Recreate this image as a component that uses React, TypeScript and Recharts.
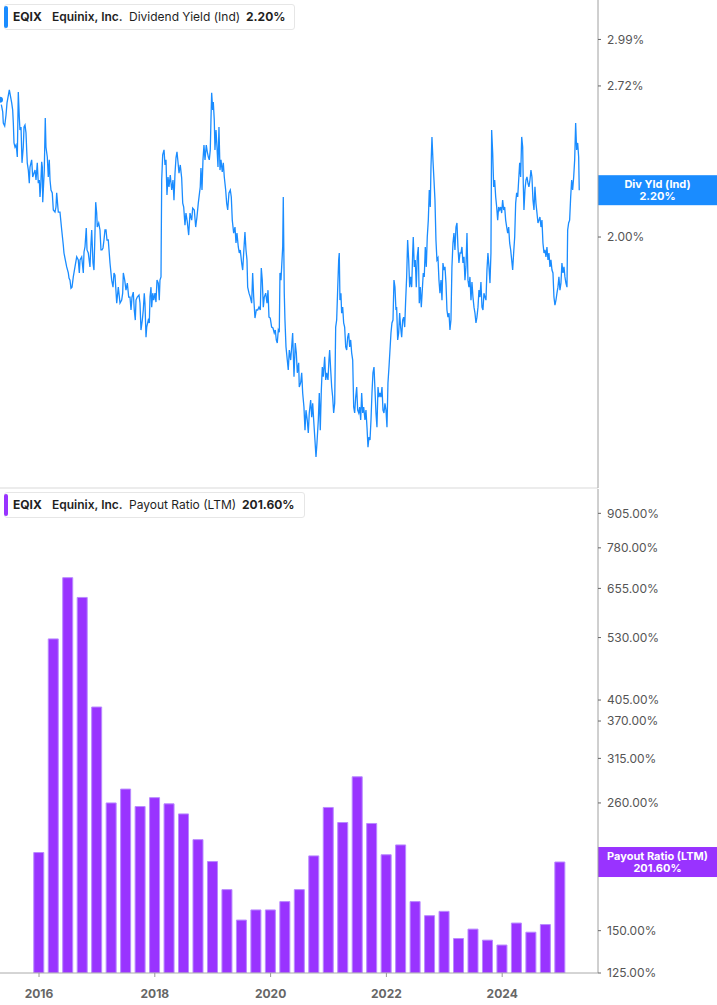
import {
  Bar,
  ComposedChart,
  Line,
  LineChart,
  ReferenceLine,
  XAxis,
  YAxis,
} from "recharts";

// Dividend yield (indicated), % — dates as decimal years
const yieldDates = [
  2015.326, 2015.343, 2015.373, 2015.383, 2015.407, 2015.43, 2015.447, 2015.487, 2015.528, 2015.545,
  2015.556, 2015.568, 2015.585, 2015.602, 2015.614, 2015.625, 2015.642, 2015.659, 2015.671, 2015.689,
  2015.706, 2015.728, 2015.741, 2015.758, 2015.775, 2015.787, 2015.797, 2015.815, 2015.832, 2015.844,
  2015.873, 2015.891, 2015.913, 2015.931, 2015.948, 2015.97, 2015.987, 2016.005, 2016.017, 2016.029,
  2016.046, 2016.057, 2016.064, 2016.074, 2016.091, 2016.108, 2016.12, 2016.143, 2016.16, 2016.177,
  2016.19, 2016.207, 2016.229, 2016.247, 2016.276, 2016.293, 2016.305, 2016.333, 2016.362, 2016.392,
  2016.419, 2016.431, 2016.454, 2016.478, 2016.506, 2016.518, 2016.535, 2016.552, 2016.57, 2016.592,
  2016.621, 2016.651, 2016.678, 2016.696, 2016.708, 2016.737, 2016.765, 2016.777, 2016.794, 2016.816,
  2016.829, 2016.851, 2016.88, 2016.898, 2016.91, 2016.932, 2016.949, 2016.962, 2016.979, 2016.996,
  2017.006, 2017.031, 2017.053, 2017.07, 2017.088, 2017.105, 2017.122, 2017.139, 2017.157, 2017.174,
  2017.196, 2017.226, 2017.255, 2017.278, 2017.295, 2017.312, 2017.342, 2017.369, 2017.399, 2017.428,
  2017.445, 2017.456, 2017.48, 2017.502, 2017.525, 2017.549, 2017.571, 2017.589, 2017.606, 2017.628,
  2017.645, 2017.663, 2017.675, 2017.697, 2017.727, 2017.744, 2017.761, 2017.784, 2017.801, 2017.818,
  2017.83, 2017.848, 2017.86, 2017.887, 2017.905, 2017.917, 2017.934, 2017.946, 2017.964, 2017.981,
  2018.003, 2018.02, 2018.038, 2018.06, 2018.077, 2018.089, 2018.107, 2018.11, 2018.119, 2018.136,
  2018.159, 2018.176, 2018.193, 2018.21, 2018.228, 2018.245, 2018.267, 2018.292, 2018.314, 2018.331,
  2018.349, 2018.366, 2018.383, 2018.4, 2018.418, 2018.44, 2018.464, 2018.482, 2018.499, 2018.521,
  2018.538, 2018.561, 2018.585, 2018.608, 2018.637, 2018.654, 2018.682, 2018.706, 2018.728, 2018.751,
  2018.768, 2018.785, 2018.797, 2018.815, 2018.832, 2018.849, 2018.867, 2018.889, 2018.906, 2018.924,
  2018.941, 2018.958, 2018.97, 2018.982, 2019.0, 2019.01, 2019.027, 2019.039, 2019.057, 2019.074,
  2019.091, 2019.108, 2019.126, 2019.143, 2019.165, 2019.183, 2019.2, 2019.224, 2019.241, 2019.259,
  2019.281, 2019.304, 2019.321, 2019.338, 2019.362, 2019.385, 2019.402, 2019.419, 2019.442, 2019.459,
  2019.476, 2019.5, 2019.518, 2019.535, 2019.557, 2019.575, 2019.592, 2019.604, 2019.627, 2019.649,
  2019.673, 2019.69, 2019.708, 2019.73, 2019.753, 2019.777, 2019.799, 2019.822, 2019.839, 2019.856,
  2019.874, 2019.891, 2019.915, 2019.938, 2019.955, 2019.972, 2019.994, 2020.018, 2020.041, 2020.063,
  2020.081, 2020.098, 2020.115, 2020.133, 2020.15, 2020.162, 2020.179, 2020.191, 2020.209, 2020.219,
  2020.236, 2020.248, 2020.266, 2020.288, 2020.305, 2020.323, 2020.347, 2020.364, 2020.381, 2020.404,
  2020.426, 2020.444, 2020.461, 2020.485, 2020.495, 2020.519, 2020.537, 2020.554, 2020.576, 2020.594,
  2020.611, 2020.633, 2020.651, 2020.668, 2020.692, 2020.71, 2020.727, 2020.744, 2020.766, 2020.784,
  2020.801, 2020.824, 2020.841, 2020.858, 2020.876, 2020.893, 2020.91, 2020.934, 2020.952, 2020.969,
  2020.991, 2021.008, 2021.02, 2021.038, 2021.055, 2021.072, 2021.089, 2021.107, 2021.124, 2021.141,
  2021.158, 2021.176, 2021.186, 2021.198, 2021.215, 2021.227, 2021.245, 2021.262, 2021.279, 2021.297,
  2021.314, 2021.331, 2021.348, 2021.366, 2021.383, 2021.4, 2021.418, 2021.435, 2021.452, 2021.47,
  2021.487, 2021.504, 2021.522, 2021.539, 2021.556, 2021.573, 2021.591, 2021.608, 2021.63, 2021.647,
  2021.665, 2021.682, 2021.699, 2021.717, 2021.734, 2021.751, 2021.768, 2021.786, 2021.803, 2021.82,
  2021.837, 2021.855, 2021.872, 2021.889, 2021.906, 2021.924, 2021.941, 2021.958, 2021.975, 2021.993,
  2022.01, 2022.027, 2022.045, 2022.062, 2022.079, 2022.096, 2022.114, 2022.131, 2022.148, 2022.165,
  2022.177, 2022.195, 2022.212, 2022.229, 2022.246, 2022.264, 2022.281, 2022.298, 2022.316, 2022.333,
  2022.35, 2022.367, 2022.385, 2022.402, 2022.419, 2022.437, 2022.454, 2022.464, 2022.482, 2022.499,
  2022.516, 2022.533, 2022.551, 2022.568, 2022.585, 2022.603, 2022.62, 2022.637, 2022.654, 2022.672,
  2022.689, 2022.706, 2022.724, 2022.741, 2022.758, 2022.77, 2022.787, 2022.804, 2022.822, 2022.839,
  2022.856, 2022.873, 2022.891, 2022.908, 2022.925, 2022.943, 2022.96, 2022.977, 2022.994, 2023.012,
  2023.029, 2023.046, 2023.063, 2023.081, 2023.098, 2023.115, 2023.132, 2023.15, 2023.167, 2023.184,
  2023.202, 2023.219, 2023.236, 2023.253, 2023.271, 2023.288, 2023.305, 2023.322, 2023.34, 2023.357,
  2023.374, 2023.392, 2023.409, 2023.426, 2023.443, 2023.461, 2023.478, 2023.495, 2023.513, 2023.53,
  2023.547, 2023.564, 2023.582, 2023.599, 2023.616, 2023.633, 2023.651, 2023.668, 2023.685, 2023.703,
  2023.72, 2023.737, 2023.754, 2023.772, 2023.789, 2023.806, 2023.818, 2023.836, 2023.853, 2023.87,
  2023.888, 2023.905, 2023.922, 2023.939, 2023.957, 2023.974, 2023.991, 2024.008, 2024.026, 2024.043,
  2024.06, 2024.078, 2024.095, 2024.112, 2024.129, 2024.147, 2024.164, 2024.181, 2024.198, 2024.216,
  2024.233, 2024.25, 2024.268, 2024.285, 2024.302, 2024.319, 2024.337, 2024.354, 2024.364, 2024.376,
  2024.393, 2024.411, 2024.428, 2024.445, 2024.462, 2024.48, 2024.497, 2024.514, 2024.532, 2024.549,
  2024.566, 2024.583, 2024.601, 2024.618, 2024.635, 2024.652, 2024.67, 2024.687, 2024.704, 2024.722,
  2024.739, 2024.756, 2024.773, 2024.791, 2024.808, 2024.825, 2024.842, 2024.86, 2024.877, 2024.894,
  2024.911, 2024.929, 2024.946, 2024.963, 2024.98, 2024.998, 2025.015, 2025.032, 2025.05, 2025.067,
  2025.084, 2025.101, 2025.119, 2025.131, 2025.148, 2025.165, 2025.183, 2025.2, 2025.217, 2025.235,
  2025.252, 2025.269, 2025.286, 2025.304, 2025.321, 2025.331,
];

const yieldValues = [
  2.644, 2.628, 2.58, 2.522, 2.507, 2.564, 2.628, 2.698, 2.628, 2.59,
  2.522, 2.422, 2.402, 2.412, 2.388, 2.354, 2.687, 2.553, 2.487, 2.502,
  2.326, 2.402, 2.502, 2.512, 2.472, 2.388, 2.326, 2.292, 2.232, 2.306,
  2.34, 2.26, 2.278, 2.292, 2.246, 2.326, 2.232, 2.246, 2.17, 2.215,
  2.331, 2.306, 2.147, 2.201, 2.292, 2.548, 2.402, 2.354, 2.26, 2.34,
  2.246, 2.201, 2.188, 2.113, 2.104, 2.126, 2.188, 2.104, 2.104, 2.029,
  1.968, 1.936, 1.909, 1.882, 1.859, 1.84, 1.832, 1.802, 1.806, 1.844,
  1.882, 1.921, 1.909, 1.859, 1.909, 1.921, 1.859, 1.94, 1.96, 2.037,
  1.948, 1.936, 1.882, 1.976, 2.029, 1.897, 1.87, 1.976, 2.147, 2.1,
  2.041, 2.058, 2.029, 1.948, 1.948, 1.956, 1.988, 2.029, 2.029, 1.988,
  1.988, 1.897, 1.832, 1.806, 1.859, 1.851, 1.748, 1.806, 1.748, 1.759,
  1.784, 1.859, 1.832, 1.795, 1.821, 1.77, 1.77, 1.724, 1.77, 1.788,
  1.724, 1.689, 1.759, 1.77, 1.777, 1.748, 1.655, 1.689, 1.724, 1.784,
  1.748, 1.631, 1.665, 1.689, 1.679, 1.77, 1.806, 1.734, 1.784, 1.759,
  1.784, 1.752, 1.832, 1.821, 1.759, 1.832, 1.844, 1.948, 2.246, 2.364,
  2.388, 2.316, 2.34, 2.179, 2.26, 2.215, 2.269, 2.201, 2.246, 2.156,
  2.278, 2.35, 2.379, 2.331, 2.278, 2.316, 2.255, 2.143, 2.126, 2.049,
  2.1, 2.062, 2.008, 2.1, 2.07, 2.121, 2.113, 2.041, 2.083, 2.143,
  2.179, 2.215, 2.302, 2.201, 2.34, 2.412, 2.34, 2.412, 2.379, 2.354,
  2.34, 2.388, 2.538, 2.682, 2.59, 2.633, 2.538, 2.388, 2.487, 2.402,
  2.306, 2.502, 2.292, 2.34, 2.283, 2.326, 2.26, 2.201, 2.143, 2.113,
  2.188, 2.201, 2.17, 2.07, 2.016, 2.041, 1.976, 2.016, 1.96, 1.936,
  1.948, 1.897, 1.87, 1.936, 2.02, 1.948, 1.909, 1.806, 1.784, 1.77,
  1.748, 1.859, 1.77, 1.696, 1.724, 1.724, 1.734, 1.724, 1.878, 1.832,
  1.734, 1.77, 1.784, 1.748, 1.795, 1.699, 1.696, 1.665, 1.662, 1.645,
  1.655, 1.622, 1.612, 1.655, 1.648, 1.859, 1.832, 1.882, 1.96, 2.17,
  1.784, 1.689, 1.599, 1.557, 1.526, 1.589, 1.557, 1.599, 1.645, 1.505,
  1.612, 1.58, 1.517, 1.548, 1.474, 1.486, 1.517, 1.456, 1.415, 1.35,
  1.406, 1.378, 1.342, 1.398, 1.435, 1.386, 1.426, 1.378, 1.323, 1.278,
  1.315, 1.378, 1.456, 1.35, 1.465, 1.535, 1.505, 1.567, 1.495, 1.517,
  1.495, 1.557, 1.589, 1.526, 1.474, 1.444, 1.398, 1.426, 1.665, 1.689,
  1.795, 1.909, 1.936, 1.759, 1.784, 1.713, 1.734, 1.679, 1.665, 1.599,
  1.589, 1.631, 1.645, 1.599, 1.622, 1.58, 1.557, 1.415, 1.398, 1.444,
  1.474, 1.406, 1.398, 1.415, 1.378, 1.456, 1.398, 1.415, 1.378, 1.406,
  1.358, 1.304, 1.331, 1.323, 1.378, 1.456, 1.517, 1.535, 1.465, 1.398,
  1.358, 1.474, 1.444, 1.456, 1.444, 1.474, 1.406, 1.398, 1.426, 1.406,
  1.358, 1.486, 1.535, 1.589, 1.645, 1.679, 1.689, 1.832, 1.806, 1.724,
  1.734, 1.622, 1.645, 1.713, 1.665, 1.631, 1.689, 1.699, 1.665, 1.759,
  1.844, 1.988, 1.909, 1.806, 1.844, 1.806, 1.936, 2.0, 1.882, 1.909,
  1.806, 1.921, 1.96, 1.748, 1.806, 1.734, 1.795, 1.859, 1.844, 1.96,
  1.882, 2.0, 2.07, 2.201, 2.126, 2.306, 2.452, 2.34, 2.246, 2.156,
  1.988, 1.909, 1.917, 1.832, 1.784, 1.832, 1.759, 1.897, 1.87, 1.882,
  1.821, 1.724, 1.699, 1.713, 1.655, 1.689, 1.882, 1.976, 2.016, 1.948,
  2.041, 2.058, 1.96, 1.897, 1.936, 1.936, 1.96, 1.897, 1.921, 1.832,
  1.882, 2.016, 1.832, 1.806, 1.844, 1.759, 1.825, 1.77, 1.734, 1.713,
  1.679, 1.699, 1.734, 1.795, 1.77, 1.825, 1.734, 1.724, 1.784, 1.77,
  1.759, 1.87, 1.936, 1.882, 1.821, 1.936, 2.487, 2.374, 2.215, 2.246,
  2.17, 2.126, 2.07, 2.126, 2.113, 2.126, 2.1, 2.156, 2.113, 2.126,
  2.07, 2.041, 2.016, 2.041, 1.976, 1.948, 1.909, 1.87, 1.936, 2.0,
  2.143, 2.188, 2.17, 2.246, 2.326, 2.26, 2.452, 2.402, 2.232, 2.113,
  2.201, 2.246, 2.26, 2.232, 2.215, 2.246, 2.292, 2.26, 2.156, 2.113,
  2.215, 2.143, 2.1, 2.058, 2.07, 2.083, 2.041, 2.07, 1.976, 1.936,
  1.948, 1.921, 1.96, 1.909, 1.936, 1.882, 1.909, 1.87, 1.859, 1.77,
  1.741, 1.759, 1.784, 1.806, 1.844, 1.795, 1.821, 1.897, 1.859, 1.882,
  1.844, 1.821, 1.806, 2.029, 2.058, 2.07, 2.17, 2.246, 2.201, 2.26,
  2.34, 2.522, 2.388, 2.422, 2.354, 2.2,
];

// Payout ratio (LTM), % — one bar per quarter end
const payoutQuarters = [
  "Q4 2015",
  "Q1 2016", "Q2 2016", "Q3 2016", "Q4 2016",
  "Q1 2017", "Q2 2017", "Q3 2017", "Q4 2017",
  "Q1 2018", "Q2 2018", "Q3 2018", "Q4 2018",
  "Q1 2019", "Q2 2019", "Q3 2019", "Q4 2019",
  "Q1 2020", "Q2 2020", "Q3 2020", "Q4 2020",
  "Q1 2021", "Q2 2021", "Q3 2021", "Q4 2021",
  "Q1 2022", "Q2 2022", "Q3 2022", "Q4 2022",
  "Q1 2023", "Q2 2023", "Q3 2023", "Q4 2023",
  "Q1 2024", "Q2 2024", "Q3 2024", "Q4 2024",
];
const payoutValues = [
  210,
  527, 686, 630, 393,
  260, 276, 256, 266,
  259, 248, 222, 202,
  179, 157, 164, 164,
  170, 179, 207, 255,
  239, 291, 238, 208,
  217, 170, 160, 163,
  145, 151, 144, 141,
  155, 149, 154, 201.6,
];

const yieldTicks = [2.0, 2.72, 2.99];
const payoutTicks = [125, 150, 260, 315, 370, 405, 530, 655, 780, 905];
const yearTicks = [2016, 2018, 2020, 2022, 2024];
const latestYield = 2.2;
const latestPayout = 201.6;

const X_DOMAIN: [number, number] = [2015.326, 2025.655];
const BLUE = "#1a8cff";
const PURPLE = "#9933ff";
const AXIS_W = 119;

const yieldData = yieldDates.map((t, i) => ({ t, v: yieldValues[i] }));

const quarterToYear = (q: string) => {
  const [qq, yy] = q.split(" ");
  return Number(yy) + Number(qq.slice(1)) * 0.25;
};
const payoutData = payoutQuarters.map((q, i) => ({ t: quarterToYear(q), v: payoutValues[i] }));

function ValueTag(props: any) {
  const { viewBox, title, value, color } = props;
  if (!viewBox) return null;
  const x = viewBox.x + viewBox.width;
  const y = viewBox.y;
  return (
    <g>
      <rect x={x} y={y - 15} width={AXIS_W} height={30} fill={color} />
      <text x={x + AXIS_W / 2} y={y - 2.5} textAnchor="middle" fill="#fff" fontSize={11} fontWeight={700}>
        {title}
      </text>
      <text x={x + AXIS_W / 2} y={y + 10} textAnchor="middle" fill="#fff" fontSize={11} fontWeight={700}>
        {value}
      </text>
    </g>
  );
}

function Header({ top, width, color, metric, value, valueLeft }: any) {
  return (
    <div
      style={{
        position: "absolute",
        left: 4,
        top,
        width,
        height: 26,
        boxSizing: "border-box",
        border: "1px solid #e6e6e6",
        borderRadius: 3,
        background: "#fff",
        fontSize: 12,
        lineHeight: "24px",
        color: "#1f1f1f",
        whiteSpace: "nowrap",
      }}
    >
      <div style={{ position: "absolute", left: -1, top: 1, width: 3.5, height: 22, background: color, borderRadius: 2 }} />
      <span style={{ position: "absolute", left: 8, fontWeight: 700 }}>EQIX</span>
      <span style={{ position: "absolute", left: 47, fontWeight: 600 }}>Equinix, Inc.</span>
      <span style={{ position: "absolute", left: 124 }}>{metric}</span>
      <span style={{ position: "absolute", left: valueLeft, fontWeight: 700 }}>{value}</span>
    </div>
  );
}

const axisTick = { fill: "#555", fontSize: 12 };

export default function App() {
  return (
    <div
      style={{
        position: "absolute",
        left: 0,
        top: 0,
        width: 717,
        height: 1005,
        background: "#fff",
        fontFamily: "Inter, 'Noto Sans', sans-serif",
      }}
    >
      <div style={{ position: "absolute", left: 0, top: 0 }}>
        <LineChart width={717} height={489} data={yieldData} margin={{ top: 0, right: 0, bottom: 0, left: 0 }}>
          <XAxis
            type="number"
            dataKey="t"
            domain={X_DOMAIN}
            allowDataOverflow
            ticks={yearTicks}
            tick={false}
            tickLine={false}
            axisLine={{ stroke: "#d9d9d9" }}
            height={1}
          />
          <YAxis
            orientation="right"
            scale="log"
            domain={[1.2, 3.24]}
            allowDataOverflow
            ticks={yieldTicks}
            tickFormatter={(v: number) => `${v.toFixed(2)}%`}
            width={AXIS_W}
            tick={axisTick}
            tickSize={3}
            tickMargin={6}
            tickLine={{ stroke: "#666" }}
            axisLine={{ stroke: "#a0a0a0" }}
          />
          <Line
            type="linear"
            dataKey="v"
            stroke={BLUE}
            strokeWidth={1.3}
            dot={false}
            isAnimationActive={false}
          />
          <ReferenceLine
            y={latestYield}
            stroke="none"
            label={(p: any) => (
              <ValueTag {...p} title="Div Yld (Ind)" value={`${latestYield.toFixed(2)}%`} color={BLUE} />
            )}
          />
        </LineChart>
      </div>

      <div style={{ position: "absolute", left: 0, top: 489 }}>
        <ComposedChart width={717} height={516} data={payoutData} margin={{ top: 0, right: 0, bottom: 0, left: 0 }}>
          <XAxis
            type="number"
            dataKey="t"
            domain={X_DOMAIN}
            allowDataOverflow
            ticks={yearTicks}
            tickFormatter={(v: number) => String(v)}
            tick={{ fill: "#666", fontSize: 12, fontWeight: 700 }}
            tickSize={4}
            tickMargin={12}
            tickLine={{ stroke: "#999" }}
            axisLine={{ stroke: "#aaa" }}
            height={32}
          />
          <YAxis
            orientation="right"
            scale="log"
            domain={[125, 1005]}
            allowDataOverflow
            ticks={payoutTicks}
            tickFormatter={(v: number) => `${v.toFixed(2)}%`}
            width={AXIS_W}
            tick={axisTick}
            tickSize={3}
            tickMargin={6}
            tickLine={{ stroke: "#666" }}
            axisLine={{ stroke: "#a0a0a0" }}
          />
          <Bar
            dataKey="v"
            fill={PURPLE}
            stroke="#b98aff"
            strokeWidth={1}
            barSize={10}
            isAnimationActive={false}
          />
          <ReferenceLine
            y={latestPayout}
            stroke="none"
            label={(p: any) => (
              <ValueTag {...p} title="Payout Ratio (LTM)" value={`${latestPayout.toFixed(2)}%`} color={PURPLE} />
            )}
          />
        </ComposedChart>
      </div>

      <Header top={4} width={291} color={BLUE} metric="Dividend Yield (Ind)" value="2.20%" valueLeft={241} />
      <Header top={492} width={301} color={PURPLE} metric="Payout Ratio (LTM)" value="201.60%" valueLeft={237} />
    </div>
  );
}
